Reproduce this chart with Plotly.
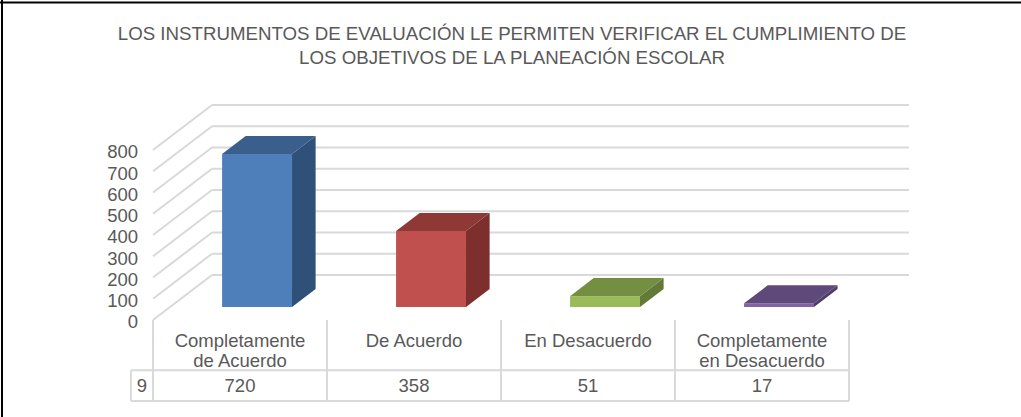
import plotly.graph_objects as go

title_lines = ["LOS INSTRUMENTOS DE EVALUACIÓN LE PERMITEN VERIFICAR EL CUMPLIMIENTO DE",
               "LOS OBJETIVOS DE LA PLANEACIÓN ESCOLAR"]
categories_line1 = ["Completamente", "De Acuerdo", "En Desacuerdo", "Completamente"]
categories_line2 = ["de Acuerdo", "", "", "en Desacuerdo"]
values = [720, 358, 51, 17]
series_name = "9"
y_ticks = [0, 100, 200, 300, 400, 500, 600, 700, 800]
front_colors = ["#4F7FBB", "#C0504D", "#9BBB59", "#8064A2"]
side_colors = ["#2F5078", "#7C2F2D", "#637A36", "#4E3B66"]
top_colors = ["#3A5F8C", "#8F3936", "#748F41", "#5F497A"]

TEXT = "#595959"
GRID = "#D9D9D9"
FS = 18.5
DX, DY = 0.339, 212.0      # oblique projection of one unit of depth (category units, value units)
BAR_D0, BAR_D1 = 0.289, 0.689
BAR_W = 0.402
ROW_TOP, ROW_LINE2, ROW_MID, ROW_TEXT, ROW_BOT = 0, -198, -237, -319, -381
X_MIN, X_KEY, X_L, X_R, X_END = -0.661, -0.627, -0.5, 3.5, 3.845
Y_MIN, Y_MAX = -395.3, 1035.3
M_L, M_R, M_T, M_B = 125, 112, 100, 13
PW, PH = 1021 - M_L - M_R, 417 - M_T - M_B

def proj(x, v, d):
    return x + d * DX, v + d * DY

xs = list(range(len(values)))
fig = go.Figure()

# front faces
fig.add_trace(go.Bar(
    x=[proj(i, 0, BAR_D0)[0] for i in xs], y=values,
    base=BAR_D0 * DY, width=BAR_W,
    marker=dict(color=front_colors, line=dict(width=0)),
    showlegend=False, hoverinfo="skip"))

# side and top faces
for i, v in enumerate(values):
    l, r = i - BAR_W / 2, i + BAR_W / 2
    side = [proj(r, 0, BAR_D0), proj(r, 0, BAR_D1), proj(r, v, BAR_D1), proj(r, v, BAR_D0)]
    top = [proj(l, v, BAR_D0), proj(r, v, BAR_D0), proj(r, v, BAR_D1), proj(l, v, BAR_D1)]
    for pts, col in ((side, side_colors[i]), (top, top_colors[i])):
        px = [p[0] for p in pts] + [pts[0][0]]
        py = [p[1] for p in pts] + [pts[0][1]]
        fig.add_trace(go.Scatter(x=px, y=py, mode="lines", fill="toself", fillcolor=col,
                                 line=dict(width=0, color=col), showlegend=False, hoverinfo="skip"))

# table rules
def rule(x0, y0, x1, y1):
    fig.add_trace(go.Scatter(x=[x0, x1], y=[y0, y1], mode="lines", line=dict(color=GRID, width=2),
                             showlegend=False, hoverinfo="skip"))

for k in range(len(values) + 1):
    rule(X_L + k, ROW_TOP, X_L + k, ROW_BOT)
rule(X_KEY, ROW_MID, X_R, ROW_MID)
rule(X_KEY, ROW_BOT, X_R, ROW_BOT)
rule(X_KEY, ROW_MID, X_KEY, ROW_BOT)

# second lines of the category labels, and the values row
label_font = dict(size=FS, color=TEXT, family="Liberation Sans")
fig.add_trace(go.Scatter(x=xs, y=[ROW_LINE2] * len(xs), mode="text", text=categories_line2,
                         textfont=label_font, showlegend=False, hoverinfo="skip"))
fig.add_trace(go.Scatter(x=xs, y=[ROW_TEXT] * len(xs), mode="text",
                         text=[str(v) for v in values],
                         textfont=label_font, showlegend=False, hoverinfo="skip"))
fig.add_trace(go.Scatter(x=[(X_KEY + X_L) / 2], y=[ROW_TEXT], mode="text",
                         text=[series_name], textfont=label_font, showlegend=False, hoverinfo="skip"))

# walls: gridlines drawn as below-layer shapes
shapes = []
for t in y_ticks:
    bx, by = proj(X_L, t, 1)
    shapes.append(dict(type="line", xref="x", yref="y", layer="below", x0=X_L, y0=t, x1=bx, y1=by,
                       line=dict(color=GRID, width=2)))
    shapes.append(dict(type="line", xref="x", yref="y", layer="below", x0=bx, y0=by, x1=X_END, y1=by,
                       line=dict(color=GRID, width=2)))
# frame of the page
shapes.append(dict(type="line", xref="paper", yref="paper", x0=-M_L/PW, y0=1 + 97.5/PH, x1=1 + M_R/PW, y1=1 + 97.5/PH,
                   line=dict(color="#000000", width=2)))
shapes.append(dict(type="line", xref="paper", yref="paper", x0=-(M_L-2)/PW, y0=1 + 100/PH, x1=-(M_L-2)/PW, y1=-M_B/PH,
                   line=dict(color="#000000", width=2)))

fig.update_layout(
    width=1021, height=417,
    margin=dict(l=M_L, r=M_R, t=M_T, b=M_B, autoexpand=False),
    paper_bgcolor="white", plot_bgcolor="white",
    font=dict(family="Liberation Sans", color=TEXT, size=FS),
    title=dict(text="<br>".join(title_lines), x=512/1021, xanchor="center", xref="container",
               y=1 - 40/417, yanchor="top", yref="container",
               font=dict(size=18.7, color=TEXT, family="Liberation Sans")),
    xaxis=dict(range=[X_MIN, X_END], tickmode="array", tickvals=xs, ticktext=categories_line1,
               anchor="free", position=-Y_MIN / (Y_MAX - Y_MIN), side="bottom",
               showgrid=False, zeroline=False, showline=False, ticks="", ticklabelstandoff=8,
               tickfont=dict(size=FS, color=TEXT), tickangle=0),
    yaxis=dict(range=[Y_MIN, Y_MAX], tickmode="array", tickvals=y_ticks, showgrid=False,
               anchor="free", position=(X_L - X_MIN) / (X_END - X_MIN),
               zeroline=False, showline=False, ticks="", ticklabelstandoff=15, ticklabelshift=2,
               tickfont=dict(size=FS, color=TEXT)),
    shapes=shapes,
    showlegend=False,
)
fig.write_html("out.html", config=dict(displayModeBar=False),
               post_script="document.body.style.margin='0';")
